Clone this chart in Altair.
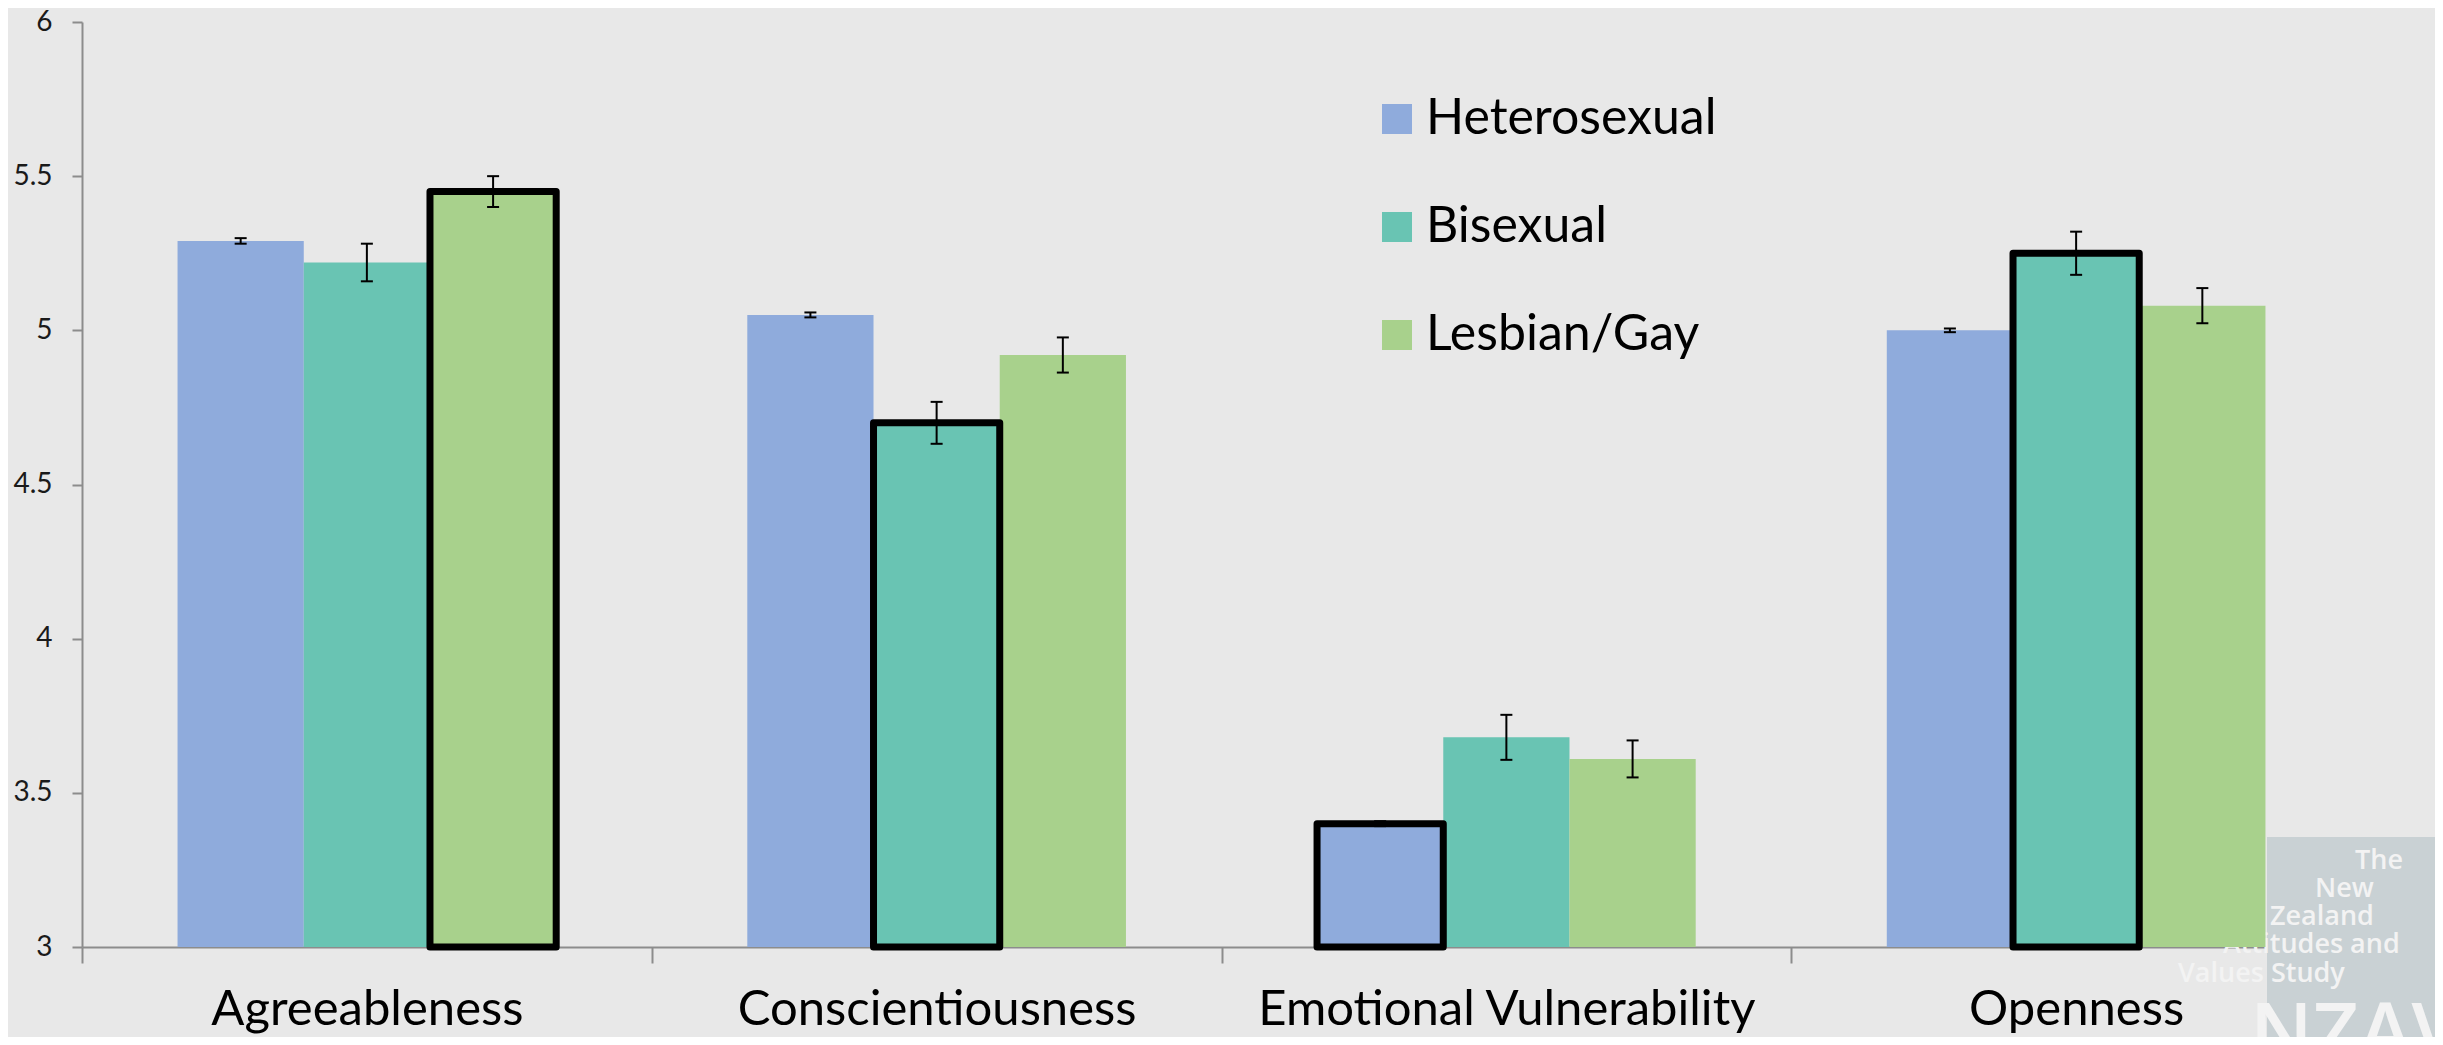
import altair as alt
import pandas as pd

traits = ["Agreeableness", "Conscientiousness", "Emotional Vulnerability", "Openness"]
groups = ["Heterosexual", "Bisexual", "Lesbian/Gay"]
colors = ["#8FABDC", "#69C4B3", "#A8D18C"]

hetero = [5.29, 5.05, 3.40, 5.00]
hetero_err = [0.009, 0.008, 0.008, 0.006]
bi = [5.22, 4.70, 3.68, 5.25]
bi_err = [0.061, 0.068, 0.073, 0.070]
lg = [5.45, 4.92, 3.61, 5.08]
lg_err = [0.050, 0.057, 0.060, 0.057]
highlight = ["Lesbian/Gay", "Bisexual", "Heterosexual", "Bisexual"]
y_ticks = [3, 3.5, 4, 4.5, 5, 5.5, 6]

logo_lines = ["The", "New", "Zealand", "Attitudes and", "Values Study"]

rows = []
for i, t in enumerate(traits):
    for g, vals, errs in ((groups[0], hetero, hetero_err), (groups[1], bi, bi_err), (groups[2], lg, lg_err)):
        rows.append({
            "trait": t, "group": g, "value": vals[i],
            "lo": vals[i] - errs[i], "hi": vals[i] + errs[i],
            "hl": highlight[i] == g,
        })
df = pd.DataFrame(rows)

W, H = 2279, 925
TOP = 14
FONT = "Lato"

x_enc = alt.X(
    "trait:N", sort=traits,
    scale=alt.Scale(paddingInner=0, paddingOuter=0),
    axis=alt.Axis(
        title=None, labelAngle=0, tickBand="extent", tickSize=16, tickWidth=2,
        tickColor="#8c8c8c", domainColor="#8c8c8c", domainWidth=2, labelLimit=0,
        labelFont=FONT, labelFontSize=49, labelColor="#000000", labelPadding=22,
    ),
)
xo_enc = alt.XOffset("group:N", sort=groups, scale=alt.Scale(paddingInner=0, paddingOuter=0.757))
y_scale = alt.Scale(domain=[3, 6], zero=False, nice=False)
y_axis = alt.Axis(
    values=y_ticks, format="~g", title=None, grid=False, tickSize=10, tickWidth=2,
    tickColor="#8c8c8c", domainColor="#8c8c8c", domainWidth=2,
    labelFont=FONT, labelFontSize=28, labelColor="#1a1a1a", labelPadding=20,
)

color_enc = alt.Color(
    "group:N", sort=groups,
    scale=alt.Scale(domain=groups, range=colors),
    legend=alt.Legend(
        title=None, orient="none", legendX=1290, legendY=72, symbolType="square",
        symbolSize=900, symbolStrokeWidth=0, symbolOpacity=1, labelFont=FONT, labelLimit=0,
        labelFontSize=50, labelColor="#000000", labelOffset=4, rowPadding=58, padding=0,
    ),
)

base = alt.Chart(df)

bars = base.mark_bar(opacity=1).encode(
    x=x_enc, xOffset=xo_enc,
    y=alt.Y("value:Q", scale=y_scale, axis=y_axis),
    y2=alt.datum(3),
    color=color_enc,
)

outline = base.transform_filter("datum.hl").mark_bar(
    stroke="black", strokeWidth=7, strokeJoin="round", opacity=1
).encode(
    x=x_enc, xOffset=xo_enc,
    y=alt.Y("value:Q", scale=y_scale),
    y2=alt.datum(3),
    color=alt.Color("group:N", sort=groups, scale=alt.Scale(domain=groups, range=colors), legend=None),
)

err_rule = base.mark_rule(color="black", strokeWidth=2).encode(
    x=x_enc, xOffset=xo_enc,
    y=alt.Y("lo:Q", scale=y_scale), y2="hi:Q",
)
cap_lo = base.mark_tick(color="black", size=12, thickness=2, orient="horizontal", opacity=1).encode(
    x=x_enc, xOffset=xo_enc, y=alt.Y("lo:Q", scale=y_scale),
)
cap_hi = base.mark_tick(color="black", size=12, thickness=2, orient="horizontal", opacity=1).encode(
    x=x_enc, xOffset=xo_enc, y=alt.Y("hi:Q", scale=y_scale),
)

# decorative logo block (bottom-right)
logo_df = pd.DataFrame({"txt": logo_lines, "px": [2273, 2233, 2188, 2141, 2096], "py": [847, 875, 903, 931, 960]})
logo_bg = alt.Chart(pd.DataFrame({"a": [0]})).mark_rect(color="#C9D1D4").encode(
    x=alt.value(2185), x2=alt.value(2353), y=alt.value(815), y2=alt.value(1020)
)
logo_txt = alt.Chart(logo_df).mark_text(
    align="left", baseline="alphabetic", font="Open Sans", fontSize=27, fontWeight=600, color="#F3F3F3"
).encode(x=alt.X("px:Q", scale=None), y=alt.Y("py:Q", scale=None), text="txt:N")
logo_big = alt.Chart(pd.DataFrame({"txt": ["NZAVS"]})).mark_text(
    align="left", baseline="top", font="Open Sans", fontSize=80, fontWeight=600, color="#F3F3F3"
).encode(x=alt.value(2168), y=alt.value(975), text="txt:N")

chart = alt.layer(
    logo_bg, logo_txt, logo_big, bars, outline, err_rule, cap_lo, cap_hi
).resolve_scale(
    color="independent"
).properties(
    width=W, height=H,
    background="#E8E8E8",
    padding={"left": 74, "top": TOP, "right": 74, "bottom": 90},
    autosize=alt.AutoSizeParams(type="none"),
).configure_view(stroke=None, fill="#E8E8E8")

chart.save("out.html", embed_options={"renderer": "svg", "actions": False})
